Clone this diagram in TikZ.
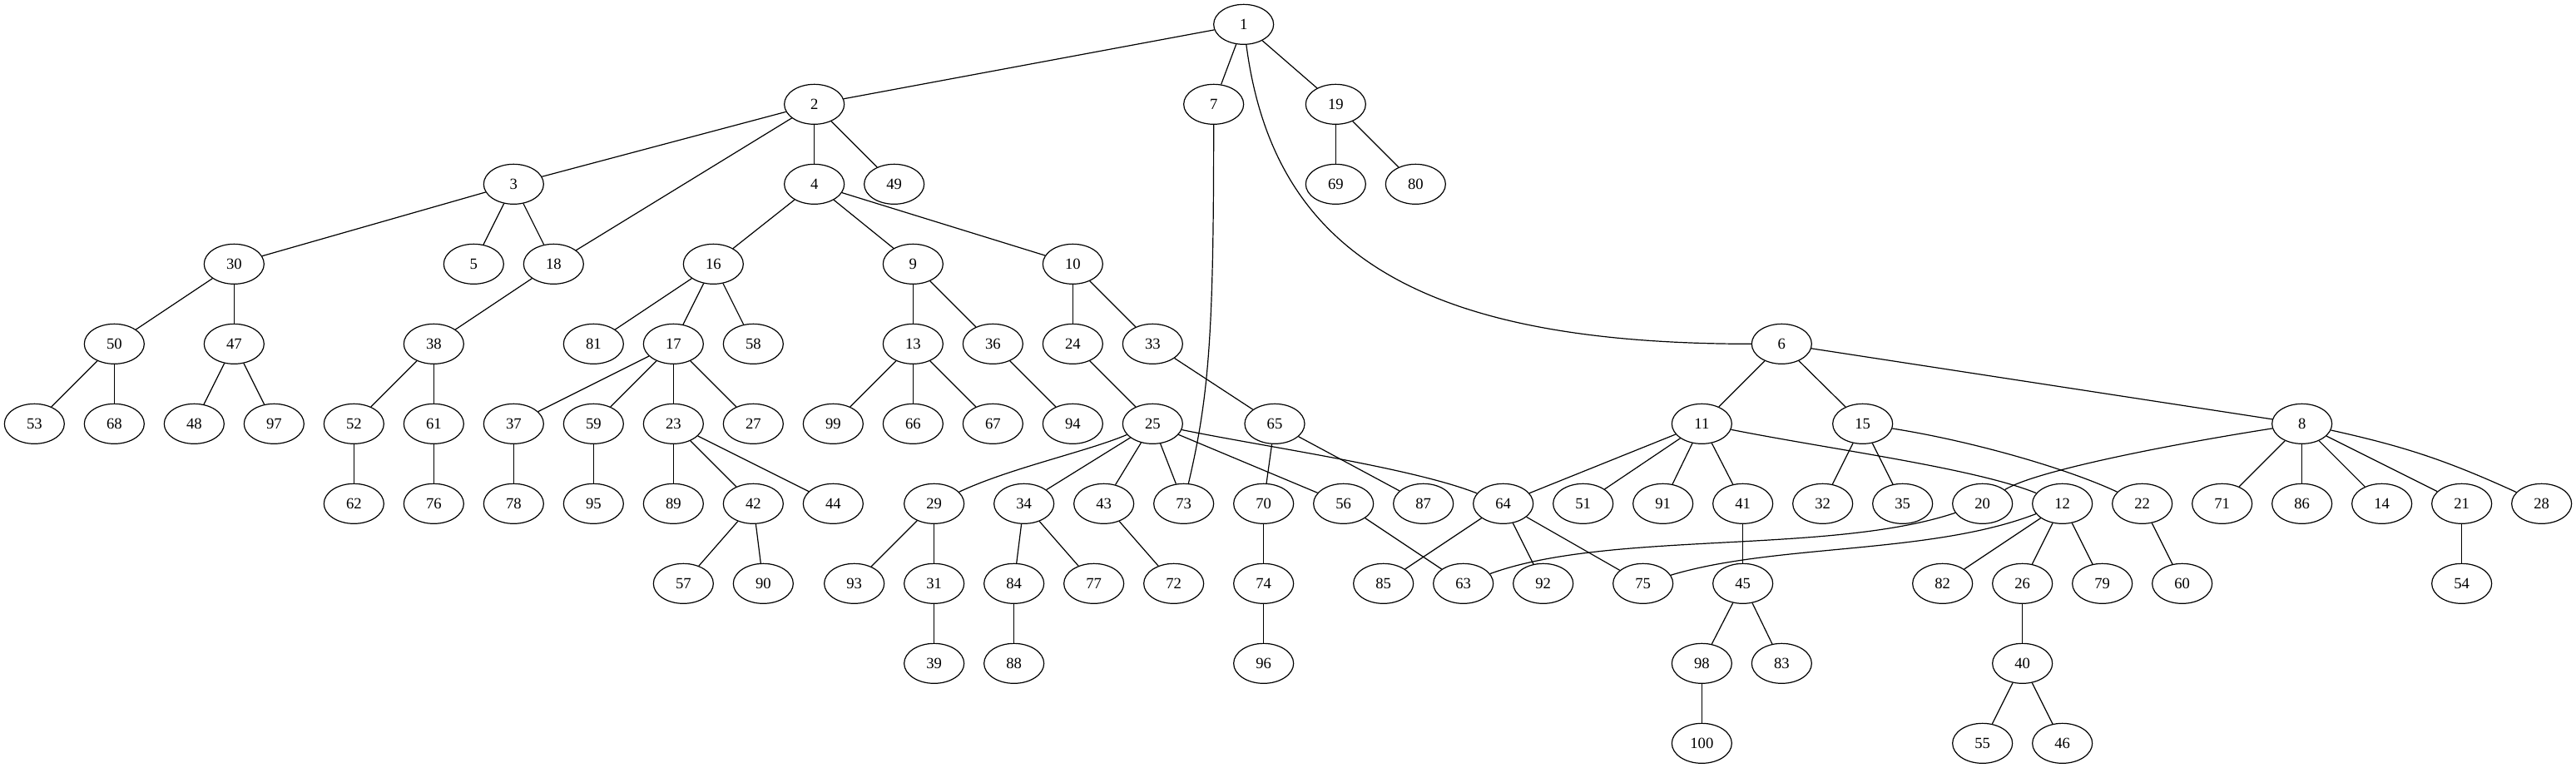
\documentclass[tikz,border=0pt]{standalone}
\usepackage{fontspec}
\setmainfont{Liberation Serif}
\usetikzlibrary{shapes.geometric}
\tikzset{
  vnode/.style={draw, ellipse, minimum width=54pt, minimum height=36pt, inner sep=0pt, line width=0.9pt, font=\fontsize{14pt}{16pt}\selectfont},
  edge/.style={line width=0.9pt}
}
\begin{document}
\begin{tikzpicture}[x=1pt,y=-1pt]
\useasboundingbox (0,0) rectangle (2322,692.25);
% rank 0
\node[vnode] (n1) at (1121,22) {1};
% rank 1
\foreach \n/\x in {2/734,7/1094,19/1204} \node[vnode] (n\n) at (\x,94) {\n};
% rank 2
\foreach \n/\x in {3/463,4/734,49/806,69/1204,80/1276} \node[vnode] (n\n) at (\x,166) {\n};
% rank 3
\foreach \n/\x in {30/211,5/427,18/499,16/643,9/823,10/967} \node[vnode] (n\n) at (\x,238) {\n};
% rank 4
\foreach \n/\x in {50/103,47/211,38/391,81/535,17/607,58/679,13/823,36/895,24/967,33/1039,6/1606} \node[vnode] (n\n) at (\x,310) {\n};
% rank 5
\foreach \n/\x in {53/31,68/103,48/175,97/247,52/319,61/391,37/463,59/535,23/607,27/679,99/751,66/823,67/895,94/967,25/1039,65/1149,11/1534,15/1679,8/2075} \node[vnode] (n\n) at (\x,382) {\n};
% rank 6
\foreach \n/\x in {62/319,76/391,78/463,95/535,89/607,42/679,44/751,29/842,34/923,43/995,73/1067,70/1139,56/1211,87/1283,64/1355,51/1427,91/1499,41/1571,32/1643,35/1715,20/1787,12/1859,22/1931,71/2003,86/2075,14/2147,21/2219,28/2291} \node[vnode] (n\n) at (\x,454) {\n};
% rank 7
\foreach \n/\x in {57/616,90/688,93/770,31/842,84/914,77/986,72/1058,74/1139,85/1247,63/1319,92/1391,75/1481,45/1571,82/1751,26/1823,79/1895,60/1967,54/2219} \node[vnode] (n\n) at (\x,526) {\n};
% rank 8
\foreach \n/\x in {39/842,88/914,96/1139,98/1534,83/1606,40/1823} \node[vnode] (n\n) at (\x,598) {\n};
% rank 9
\foreach \n/\x in {100/1534,55/1787,46/1859} \node[vnode] (n\n) at (\x,670) {\n};

% straight edges
\foreach \a/\b in {1/2,1/7,1/19,2/3,2/18,2/4,2/49,3/30,3/5,3/18,4/16,4/9,4/10,19/69,19/80,
  30/50,30/47,18/38,16/81,16/17,16/58,9/13,9/36,10/24,10/33,
  50/53,50/68,47/48,47/97,38/52,38/61,17/37,17/59,17/23,17/27,13/99,13/66,13/67,36/94,24/25,33/65,
  6/11,6/15,6/8,52/62,61/76,37/78,59/95,23/89,23/42,23/44,
  25/34,25/43,25/73,25/56,65/70,65/87,11/64,11/51,11/91,11/41,15/32,15/35,
  8/71,8/86,8/14,8/21,42/57,42/90,29/93,29/31,34/84,34/77,43/72,70/74,56/63,
  64/85,64/92,64/75,41/45,12/82,12/26,12/79,22/60,21/54,
  31/39,84/88,74/96,45/98,45/83,26/40,98/100,40/55,40/46}
  \draw[edge] (n\a) -- (n\b);

% curved edges
\draw[edge] (n1) .. controls (1147.5,225) and (1275,310) .. (n6);
\draw[edge] (n7) .. controls (1094,300) and (1090,356) .. (n73);
\draw[edge] (n25) .. controls (1140,402.75) and (1272.75,421.5) .. (n64);
\draw[edge] (n25) .. controls (980,407) and (910,422) .. (n29);
\draw[edge] (n11) .. controls (1650,405) and (1780,422) .. (n12);
\draw[edge] (n15) .. controls (1780,398) and (1865,423) .. (n22);
\draw[edge] (n8) .. controls (1960,400) and (1835,424) .. (n20);
\draw[edge] (n8) to[bend left=6] (n28);
\draw[edge] (n20) .. controls (1650,500) and (1450,478) .. (n63);
\draw[edge] (n12) .. controls (1740,500) and (1600,490) .. (n75);
\end{tikzpicture}
\end{document}
